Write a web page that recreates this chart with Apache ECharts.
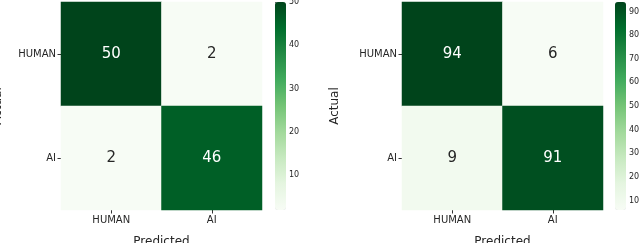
<!DOCTYPE html>
<html><head><meta charset="utf-8">
<script src="https://cdn.jsdelivr.net/npm/echarts@6/dist/echarts.min.js"></script>
<style>html,body{margin:0;padding:0;background:#fff}#c{width:640px;height:243px}</style>
</head><body><div id="c"></div>
<script>
const predictedLabels = ['HUMAN', 'AI'];
const actualLabels = ['HUMAN', 'AI'];
const matrixLeft = [[50, 2], [2, 46]];
const matrixRight = [[94, 6], [9, 91]];
const rangeLeft = [2, 50];
const rangeRight = [6, 94];
const ticksLeft = [10, 20, 30, 40, 50];
const ticksRight = [10, 20, 30, 40, 50, 60, 70, 80, 90];

const greens = ['#f7fcf5','#e5f5e0','#c7e9c0','#a1d99b','#74c476','#41ab5d','#238b45','#006d2c','#00441b'];
const FONT = 'DejaVu Sans';

function cells(m, range) {
  const out = [];
  const mid = (range[0] + range[1]) / 2;
  for (let r = 0; r < m.length; r++) for (let c = 0; c < m[r].length; c++) {
    out.push({ value: [c, r, m[r][c]], label: { color: m[r][c] > mid ? '#ffffff' : '#262626' } });
  }
  return out;
}

const grids = [
  { left: 61, top: 2, width: 201, height: 208, outerBoundsMode: 'none', containLabel: false },
  { left: 402, top: 2, width: 201, height: 208, outerBoundsMode: 'none', containLabel: false },
  { left: 275, top: 2, width: 11, height: 208, outerBoundsMode: 'none', containLabel: false },
  { left: 615, top: 2, width: 11, height: 208, outerBoundsMode: 'none', containLabel: false }
];

function catX(gi) {
  return { type: 'category', gridIndex: gi, data: predictedLabels, name: 'Predicted', nameLocation: 'middle', nameGap: 26,
    nameTextStyle: { fontFamily: FONT, fontSize: 12, color: '#262626' },
    axisLine: { show: false }, splitLine: { show: false },
    axisTick: { show: true, alignWithLabel: true, length: 3.5, lineStyle: { color: '#333', width: 1 } },
    axisLabel: { fontFamily: FONT, fontSize: 10, color: '#262626', margin: 5 } };
}
function catY(gi, gap) {
  return { type: 'category', gridIndex: gi, data: actualLabels, inverse: true, name: 'Actual', nameLocation: 'middle', nameGap: gap,
    nameTextStyle: { fontFamily: FONT, fontSize: 12, color: '#262626' },
    axisLine: { show: false }, splitLine: { show: false },
    axisTick: { show: true, alignWithLabel: true, length: 3.5, lineStyle: { color: '#333', width: 1 } },
    axisLabel: { fontFamily: FONT, fontSize: 10, color: '#262626', margin: 5 } };
}
function cbX(gi) {
  return { type: 'value', gridIndex: gi, show: false, min: 0, max: 1 };
}
function cbY(gi, range, ticks) {
  return { type: 'value', gridIndex: gi, position: 'right', min: range[0], max: range[1],
    axisLine: { show: false }, splitLine: { show: false },
    axisTick: { show: true, length: 3, customValues: ticks, lineStyle: { color: '#333', width: 0.8 } },
    axisLabel: { fontFamily: FONT, fontSize: 8, color: '#262626', margin: 3, customValues: ticks } };
}

const option = {
  animation: false,
  backgroundColor: '#ffffff',
  grid: grids,
  xAxis: [catX(0), catX(1), cbX(2), cbX(3)],
  yAxis: [catY(0, 57), catY(1, 61), cbY(2, rangeLeft, ticksLeft), cbY(3, rangeRight, ticksRight)],
  visualMap: [
    { type: 'continuous', seriesIndex: 0, min: rangeLeft[0], max: rangeLeft[1], calculable: false, text: ['', ''],
      left: 275, top: 2, itemWidth: 11, itemHeight: 208, padding: 0, inRange: { color: greens } },
    { type: 'continuous', seriesIndex: 1, min: rangeRight[0], max: rangeRight[1], calculable: false, text: ['', ''],
      left: 615, top: 2, itemWidth: 11, itemHeight: 208, padding: 0, inRange: { color: greens } }
  ],
  series: [
    { type: 'heatmap', xAxisIndex: 0, yAxisIndex: 0, data: cells(matrixLeft, rangeLeft),
      label: { show: true, fontFamily: FONT, fontSize: 15, formatter: p => p.value[2] } },
    { type: 'heatmap', xAxisIndex: 1, yAxisIndex: 1, data: cells(matrixRight, rangeRight),
      label: { show: true, fontFamily: FONT, fontSize: 15, formatter: p => p.value[2] } }
  ]
};
const chart = echarts.init(document.getElementById('c'), null, { renderer: 'canvas' });
chart.setOption(option);
</script></body></html>
